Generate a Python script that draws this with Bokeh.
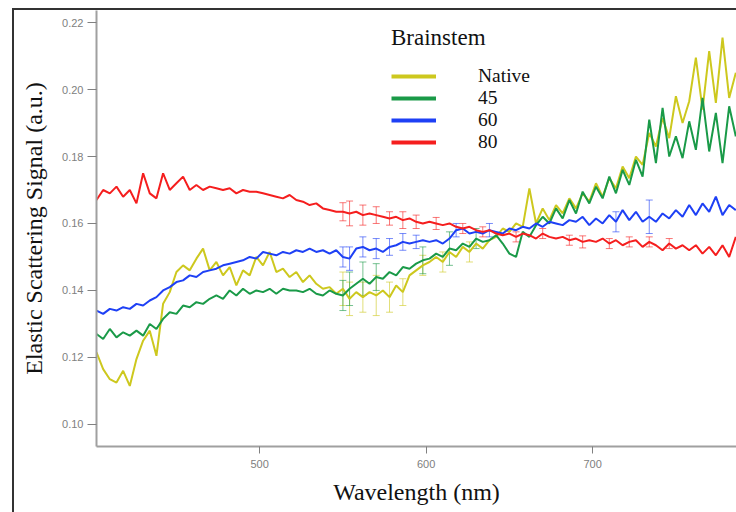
from bokeh.plotting import figure
from bokeh.models import (ColumnDataSource, Whisker, TeeHead, Legend, LegendItem,
                          FixedTicker, Range1d, PrintfTickFormatter)
from bokeh.embed import file_html
from bokeh.resources import INLINE

# ---------------- data ----------------
wl_start = 402   # nm, first sample
wl_step = 4      # nm between samples

native = [0.1215, 0.1165, 0.1135, 0.1125, 0.116, 0.1115, 0.1195, 0.125, 0.128, 0.1205,
          0.136, 0.1395, 0.1455, 0.1475, 0.146, 0.1495, 0.1525, 0.146, 0.1485, 0.1445,
          0.147, 0.1415, 0.146, 0.1445, 0.150, 0.1475, 0.1515, 0.1455, 0.1465, 0.144,
          0.1455, 0.1425, 0.1445, 0.142, 0.1405, 0.141, 0.139, 0.1405, 0.1375, 0.1395,
          0.138, 0.1395, 0.1385, 0.140, 0.138, 0.1415, 0.1395, 0.1445, 0.146, 0.1475,
          0.1485, 0.150, 0.1485, 0.1515, 0.150, 0.153, 0.1515, 0.154, 0.1525, 0.155,
          0.156, 0.1585, 0.1575, 0.160, 0.159, 0.1705, 0.160, 0.1645, 0.161, 0.1655,
          0.163, 0.1675, 0.1645, 0.169, 0.1665, 0.172, 0.168, 0.1735, 0.1705, 0.177,
          0.1735, 0.180, 0.1775, 0.187, 0.183, 0.1915, 0.1855, 0.198, 0.190, 0.1965,
          0.2095, 0.194, 0.2115, 0.196, 0.2155, 0.1975, 0.205]

s45 = [0.127, 0.1255, 0.1285, 0.126, 0.1275, 0.1265, 0.128, 0.1265, 0.130, 0.1285,
       0.1315, 0.1335, 0.133, 0.1355, 0.135, 0.1365, 0.136, 0.1375, 0.1385, 0.1375,
       0.140, 0.1385, 0.1405, 0.139, 0.140, 0.1395, 0.1405, 0.139, 0.1405, 0.140,
       0.140, 0.1395, 0.1405, 0.139, 0.1385, 0.140, 0.139, 0.1385, 0.1405, 0.142,
       0.1435, 0.142, 0.144, 0.1435, 0.1455, 0.1445, 0.147, 0.1465, 0.148, 0.149,
       0.1495, 0.151, 0.150, 0.1525, 0.152, 0.154, 0.153, 0.1555, 0.1545, 0.155,
       0.1565, 0.154, 0.151, 0.150, 0.1575, 0.156, 0.1595, 0.162, 0.160, 0.1645,
       0.1615, 0.167, 0.163, 0.1695, 0.166, 0.171, 0.1675, 0.174, 0.169, 0.176,
       0.1715, 0.179, 0.174, 0.191, 0.178, 0.1945, 0.180, 0.186, 0.1795, 0.1905,
       0.182, 0.1975, 0.1815, 0.193, 0.178, 0.195, 0.186]

s60 = [0.134, 0.133, 0.1345, 0.134, 0.135, 0.1345, 0.136, 0.1355, 0.137, 0.138,
       0.140, 0.141, 0.1425, 0.143, 0.1445, 0.144, 0.1455, 0.146, 0.1465, 0.1475,
       0.148, 0.1485, 0.149, 0.150, 0.1495, 0.1515, 0.151, 0.1505, 0.1515, 0.151,
       0.152, 0.1515, 0.1525, 0.1515, 0.152, 0.151, 0.152, 0.150, 0.1495, 0.1525,
       0.153, 0.152, 0.1525, 0.1515, 0.153, 0.1535, 0.1545, 0.154, 0.1545, 0.155,
       0.1545, 0.155, 0.154, 0.1555, 0.158, 0.1585, 0.157, 0.1575, 0.157, 0.158,
       0.1575, 0.157, 0.1585, 0.158, 0.159, 0.1585, 0.160, 0.159, 0.1605, 0.160,
       0.1595, 0.161, 0.1605, 0.162, 0.1595, 0.1615, 0.160, 0.1625, 0.1605, 0.164,
       0.161, 0.1635, 0.1605, 0.162, 0.1605, 0.163, 0.1615, 0.164, 0.162, 0.1655,
       0.1625, 0.166, 0.1635, 0.168, 0.1625, 0.1655, 0.164]

s80 = [0.167, 0.170, 0.169, 0.171, 0.168, 0.170, 0.166, 0.175, 0.169, 0.1675,
       0.175, 0.170, 0.172, 0.174, 0.170, 0.1715, 0.170, 0.171, 0.1705, 0.170,
       0.1705, 0.169, 0.170, 0.1695, 0.1695, 0.169, 0.1685, 0.168, 0.1675, 0.1685,
       0.167, 0.1665, 0.1655, 0.166, 0.1645, 0.164, 0.1635, 0.1635, 0.163, 0.1635,
       0.1625, 0.163, 0.1625, 0.162, 0.1615, 0.162, 0.161, 0.1615, 0.1605, 0.160,
       0.1605, 0.160, 0.1595, 0.160, 0.159, 0.1585, 0.159, 0.158, 0.1575, 0.158,
       0.157, 0.1565, 0.157, 0.156, 0.157, 0.1565, 0.1555, 0.157, 0.156, 0.1555,
       0.156, 0.155, 0.1555, 0.1545, 0.155, 0.1545, 0.1555, 0.154, 0.155, 0.1535,
       0.1545, 0.155, 0.153, 0.1545, 0.1535, 0.152, 0.154, 0.1525, 0.1535, 0.152,
       0.1535, 0.151, 0.153, 0.1505, 0.1535, 0.150, 0.156]

# error bars: wavelength (on the sample grid) and half-height
native_err_wl = [550, 554, 562, 570, 578, 586, 598, 610, 626]
native_err = [0.005, 0.005, 0.0045, 0.006, 0.0045, 0.004, 0.003, 0.003, 0.003]
s45_err_wl = [550, 554, 562, 570, 598, 614, 630]
s45_err = [0.0045, 0.005, 0.005, 0.004, 0.004, 0.005, 0.003]
s60_err_wl = [550, 554, 562, 570, 578, 586, 594, 618, 638, 714, 734]
s60_err = [0.003, 0.0035, 0.003, 0.003, 0.0025, 0.0025, 0.002, 0.002, 0.002, 0.003, 0.005]
s80_err_wl = [550, 554, 562, 570, 578, 586, 594, 606, 622, 634, 654, 670, 686, 694, 710, 722, 734, 746]
s80_err = [0.0027, 0.0037, 0.003, 0.0025, 0.002, 0.0025, 0.002, 0.0018, 0.0015, 0.0015,
           0.0015, 0.0015, 0.0015, 0.0018, 0.0015, 0.0015, 0.0015, 0.0015]

series_labels = ["Native", "45", "60", "80"]
legend_title = "Brainstem"
x_ticks = [500, 600, 700]
y_ticks = [0.10, 0.12, 0.14, 0.16, 0.18, 0.20, 0.22]
x_label = "Wavelength (nm)"
y_label = "Elastic Scattering Signal (a.u.)"

# ---------------- styling ----------------
colors = ["#cdc81e", "#1a9a48", "#1e40f5", "#f51e1e"]
all_series = [native, s45, s60, s80]
all_err_wl = [native_err_wl, s45_err_wl, s60_err_wl, s80_err_wl]
all_err = [native_err, s45_err, s60_err, s80_err]

wavelength = [wl_start + wl_step * i for i in range(len(native))]

p = figure(width=736, height=512, output_backend="svg", toolbar_location=None,
           x_range=Range1d(402, 786.4), y_range=Range1d(0.0934, 0.2236),
           min_border_left=96, min_border_right=0, min_border_top=10, min_border_bottom=66)
p.outline_line_color = None
p.background_fill_color = "white"
p.border_fill_alpha = 0
# panel frame (left and top rule of the cropped figure) drawn behind the canvas
p.styles = {
    "background": ("linear-gradient(#333333, #333333) 12px 8px / 2px 100% no-repeat, "
                   "linear-gradient(#333333, #333333) 12px 8px / 100% 2px no-repeat, "
                   "#ffffff"),
}
p.xgrid.visible = False
p.ygrid.visible = False

for vals, col, ewl, eh in zip(all_series, colors, all_err_wl, all_err):
    src = ColumnDataSource(dict(x=wavelength, y=vals))
    p.line("x", "y", source=src, line_color=col, line_width=2)
    centers = [vals[(w - wl_start) // wl_step] for w in ewl]
    esrc = ColumnDataSource(dict(base=ewl,
                                 upper=[c + e for c, e in zip(centers, eh)],
                                 lower=[c - e for c, e in zip(centers, eh)]))
    w = Whisker(source=esrc, base="base", upper="upper", lower="lower",
                line_color=col, line_alpha=0.6, line_width=1,
                upper_head=TeeHead(size=7, line_color=col, line_alpha=0.6, line_width=1),
                lower_head=TeeHead(size=7, line_color=col, line_alpha=0.6, line_width=1))
    p.add_layout(w)

# legend: one single-row legend per series so the rows can be placed freely;
# thicker sample lines come from renderers with no visible data
nan = float("nan")
legend_left = 295          # px from the frame's left edge
first_row_center = 76      # px from the top of the canvas
row_pitch = 22             # px between rows
frame_bottom = 446         # px from the top of the canvas
half_row = 11              # half of a legend row's height
for i, (lab, col) in enumerate(zip(series_labels, colors)):
    r = p.line(x=[nan], y=[nan], line_color=col, line_width=4)
    center = first_row_center + i * row_pitch
    lg = Legend(items=[LegendItem(label=lab, renderers=[r])],
                location=(legend_left, frame_bottom - center - half_row),
                label_text_font="Liberation Serif", label_text_font_size="19.5px",
                label_text_color="#111111", label_standoff=42,
                glyph_width=45, glyph_height=20, label_height=20, spacing=0,
                padding=0, margin=0, border_line_color=None, background_fill_alpha=0)
    if i == 0:
        lg.title = legend_title
        lg.title_text_font = "Liberation Serif"
        lg.title_text_font_size = "23px"
        lg.title_text_font_style = "normal"
        lg.title_text_color = "#111111"
        lg.title_standoff = 14
    p.add_layout(lg, "center")

for ax in (p.xaxis[0], p.yaxis[0]):
    ax.axis_line_color = "#a0a0a0"
    ax.axis_line_width = 2
    ax.major_tick_line_color = "#808080"
    ax.major_tick_line_width = 1
    ax.minor_tick_line_color = None
    ax.major_label_text_font = "Liberation Sans"
    ax.major_label_text_font_size = "11px"
    ax.major_label_text_color = "#808080"
    ax.axis_label_text_font = "Liberation Serif"
    ax.axis_label_text_font_size = "24px"
    ax.axis_label_text_font_style = "normal"
    ax.axis_label_text_color = "#111111"

p.xaxis.ticker = FixedTicker(ticks=x_ticks)
p.yaxis.ticker = FixedTicker(ticks=y_ticks)
p.yaxis.formatter = PrintfTickFormatter(format="%.2f")
p.xaxis.axis_label = x_label
p.yaxis.axis_label = y_label
p.xaxis.major_tick_out = 7
p.xaxis.major_tick_in = 0
p.yaxis.major_tick_out = 9
p.yaxis.major_tick_in = 0
p.xaxis.major_label_standoff = 6
p.yaxis.major_label_standoff = 4
p.xaxis.axis_label_standoff = 8
p.yaxis.axis_label_standoff = 12

open("out.html", "w").write(file_html(p, INLINE))
